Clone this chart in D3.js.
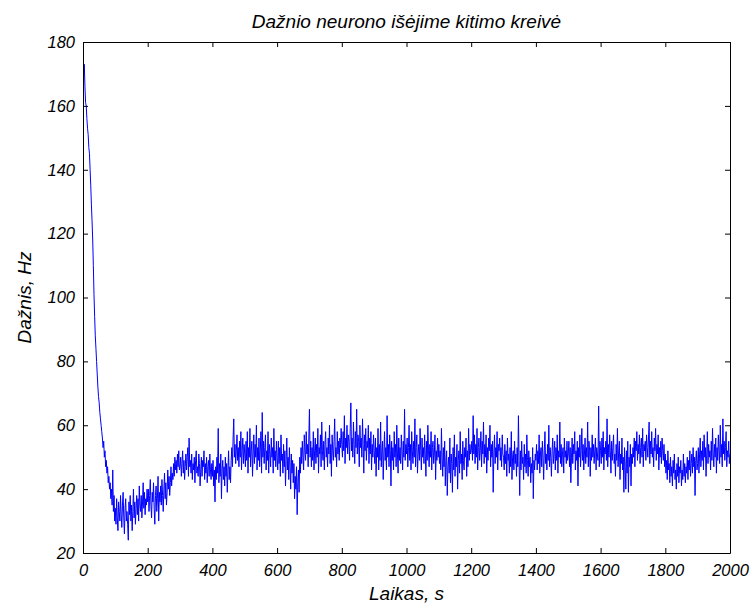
<!DOCTYPE html>
<html>
<head>
<meta charset="utf-8">
<script src="https://cdn.jsdelivr.net/npm/d3@7"></script>
<style>
  body { margin: 0; background: #fff; }
  text { font-family: "Liberation Sans", Arial, sans-serif; font-style: italic; fill: #000; }
  .axis path, .axis line { stroke: #000; stroke-width: 1; }
  .axis text { font-size: 16.5px; }
</style>
</head>
<body>
<section></section>
<script>
// firing rate sampled every 2 s, from 0 s to 2000 s (one row = 100 s)
const sampleStep = 2;
const rate = [
  172,170,173,166,161,160,156,153,151,147,145,140,135,129,124,118,110,101,94,88,84,80,76,72,69,67,64,62,60,58,
  56,53,55,50,52,47,49,45,47,42,44,40,42,37,40,35,46,33,38,30,
  34,29,37,31,27,36,33,30,38,32,28,35,39,31,26,34,37,30,33,29,24,36,32,38,30,35,27,33,40,31,36,29,34,38,32,37,30,41,35,33,38,31,36,42,34,39,32,37,35,40,
  36,40,33,38,43,35,31,39,36,42,34,29,38,41,33,37,44,30,39,36,41,35,43,38,33,40,45,37,42,35,39,46,40,44,38,42,47,41,45,43,48,44,50,46,49,45,51,47,52,46,
  47,50,44,48,52,45,49,43,47,51,46,50,53,44,56,47,49,45,51,43,48,46,50,42,49,52,45,47,44,51,48,41,46,50,44,49,47,52,43,48,45,50,42,47,49,44,51,46,43,48,
  44,49,41,46,36,47,43,50,45,59,42,48,44,51,37,46,49,43,47,41,50,44,48,39,46,52,43,47,42,49,53,47,56,62,50,54,48,52,57,49,53,47,55,50,58,46,52,56,48,54,
  51,47,55,49,58,45,53,50,59,47,52,55,44,51,57,48,54,50,60,46,53,49,56,47,52,58,45,64,50,55,48,53,57,46,52,49,58,45,54,51,47,56,50,53,45,59,49,52,47,55,
  50,46,55,48,53,44,57,49,51,45,54,47,52,41,49,56,46,50,43,53,47,40,51,45,49,42,48,37,44,40,47,32,42,46,39,50,45,53,48,55,50,46,57,52,49,58,51,54,47,56,
  65,50,55,47,53,49,58,46,52,56,48,54,50,59,45,53,51,57,47,61,52,49,55,46,54,58,50,53,47,56,51,60,48,54,44,57,52,49,55,62,50,53,47,58,51,55,49,56,53,59,
  54,50,58,52,63,48,56,53,60,51,57,55,49,59,67,52,56,50,61,54,48,58,53,65,51,57,55,47,60,53,56,50,62,54,45,57,52,59,49,55,53,60,48,56,51,58,46,54,50,57,
  52,48,56,44,53,50,59,46,54,49,61,47,52,55,43,51,58,49,53,46,63,50,54,47,57,52,41,55,49,53,46,58,50,54,47,60,51,45,56,49,53,48,57,52,46,55,50,65,49,54,
  51,56,47,53,60,49,54,46,58,52,48,55,50,62,47,53,57,45,51,54,49,59,52,46,56,50,53,48,57,51,44,55,49,60,52,47,54,50,58,46,53,55,48,51,57,43,52,49,56,50,
  54,48,52,46,59,50,44,53,47,55,41,49,52,38,47,50,45,56,42,51,48,39,53,46,57,44,50,47,54,40,49,52,45,58,48,51,43,55,49,46,53,50,56,44,52,47,59,49,54,51,
  52,55,49,63,51,57,48,54,50,59,46,53,56,49,52,58,47,55,51,61,48,54,50,57,45,53,49,56,52,60,47,54,50,55,39,51,57,48,53,50,58,46,54,52,56,49,53,47,57,51,
  50,46,54,48,52,44,56,49,51,45,53,47,58,43,50,52,46,55,48,51,44,53,47,63,49,38,52,46,55,48,50,43,54,47,51,45,57,49,44,52,47,50,42,48,45,53,37,49,46,51,
  49,54,46,52,48,57,45,51,53,47,55,50,43,52,58,48,51,46,54,49,60,47,53,50,44,52,56,48,51,55,46,53,49,57,45,52,50,61,48,54,47,51,53,45,56,50,52,48,55,49,
  51,55,47,53,42,50,56,48,54,51,58,46,52,49,55,41,53,50,57,47,52,59,49,54,46,51,56,48,53,50,61,47,55,52,44,53,49,57,50,54,48,52,56,46,53,51,49,66,47,55,
  52,48,56,50,58,46,53,51,55,49,62,47,54,50,57,52,45,55,49,53,57,48,51,44,54,49,59,47,52,55,43,51,48,56,46,50,39,53,47,40,52,45,55,39,50,47,54,41,51,48,
  53,50,56,47,55,52,58,49,54,51,57,48,53,56,50,59,47,54,52,55,49,57,53,50,56,61,48,55,51,58,50,53,47,56,52,59,49,54,51,57,46,53,50,55,48,56,52,49,54,47,
  51,45,49,43,52,46,48,42,50,44,47,41,49,45,51,43,46,40,48,44,50,42,47,45,49,41,46,43,51,44,48,42,47,45,50,43,49,46,52,44,48,51,45,53,47,50,38,49,52,46,
  48,53,45,51,56,47,52,49,55,46,57,50,53,44,51,58,48,54,50,52,46,55,49,59,51,47,54,50,56,45,53,49,57,52,48,60,50,54,47,62,51,55,49,53,58,47,52,50,55,48,
  51
];
const xTicks = [0, 200, 400, 600, 800, 1000, 1200, 1400, 1600, 1800, 2000];
const yTicks = [20, 40, 60, 80, 100, 120, 140, 160, 180];

const chartTitle = "Dažnio neurono išėjime kitimo kreivė";
const xLabel = "Laikas, s";
const yLabel = "Dažnis, Hz";

const w = 754;
const h = 604;
const plotLeft = 83;
const plotRight = 730;
const plotTop = 42;
const plotBottom = 553;

const xScale = d3.scaleLinear().domain([0, 2000]).range([plotLeft, plotRight]);
const yScale = d3.scaleLinear().domain([20, 180]).range([plotBottom, plotTop]);

const svg = d3
  .select("section")
  .append("svg")
  .attr("width", w)
  .attr("height", h);

svg
  .append("clipPath")
  .attr("id", "plot")
  .append("rect")
  .attr("x", plotLeft)
  .attr("y", plotTop)
  .attr("width", plotRight - plotLeft)
  .attr("height", plotBottom - plotTop);

const line = d3
  .line()
  .x((d, i) => xScale(i * sampleStep))
  .y(d => yScale(d));

svg
  .append("path")
  .datum(rate)
  .attr("clip-path", "url(#plot)")
  .attr("fill", "none")
  .attr("stroke", "#0000ff")
  .attr("stroke-width", 1)
  .attr("d", line);

// ticks point inward on all four sides
svg
  .append("g")
  .attr("class", "axis")
  .attr("transform", `translate(0,${plotBottom})`)
  .call(d3.axisBottom(xScale).tickValues(xTicks).tickFormat(d3.format("d")).tickSizeInner(-5).tickSizeOuter(0).tickPadding(11));

svg
  .append("g")
  .attr("class", "axis")
  .attr("transform", `translate(0,${plotTop})`)
  .call(d3.axisTop(xScale).tickValues(xTicks).tickSizeInner(-5).tickSizeOuter(0).tickFormat(""));

svg
  .append("g")
  .attr("class", "axis")
  .attr("transform", `translate(${plotLeft},0)`)
  .call(d3.axisLeft(yScale).tickValues(yTicks).tickFormat(d3.format("d")).tickSizeInner(-5).tickSizeOuter(0).tickPadding(8));

svg
  .append("g")
  .attr("class", "axis")
  .attr("transform", `translate(${plotRight},0)`)
  .call(d3.axisRight(yScale).tickValues(yTicks).tickSizeInner(-5).tickSizeOuter(0).tickFormat(""));

svg
  .append("text")
  .attr("x", (plotLeft + plotRight) / 2)
  .attr("y", 28)
  .attr("text-anchor", "middle")
  .style("font-size", "19px")
  .text(chartTitle);

svg
  .append("text")
  .attr("x", (plotLeft + plotRight) / 2)
  .attr("y", 600)
  .attr("text-anchor", "middle")
  .style("font-size", "19px")
  .text(xLabel);

svg
  .append("text")
  .attr("text-anchor", "middle")
  .style("font-size", "19px")
  .attr("transform", `translate(31,${(plotTop + plotBottom) / 2}) rotate(-90)`)
  .text(yLabel);
</script>
</body>
</html>
